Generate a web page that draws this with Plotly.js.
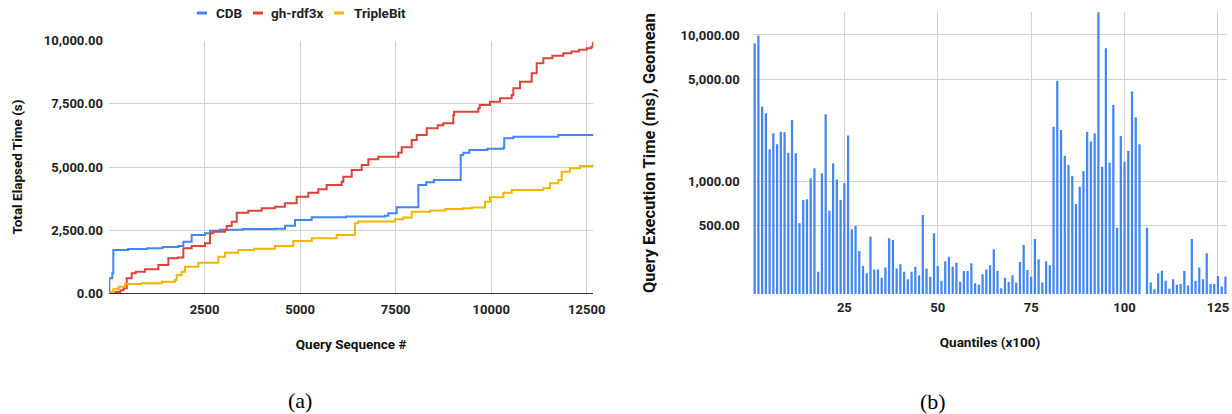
<!DOCTYPE html>
<html><head><meta charset="utf-8">
<script src="https://cdn.plot.ly/plotly-3.0.1.min.js"></script>
<style>html,body{margin:0;padding:0;background:#fff}#chart{width:1232px;height:414px}</style>
</head><body><div id="chart"></div>
<script>
// ---- data: panel (a) cumulative elapsed time (step points: query #, seconds)
const seriesNames = ['CDB', 'gh-rdf3x', 'TripleBit'];
const seriesColors = ['#4285F4', '#DB4437', '#F4B400'];

const cdbX = [0, 10, 87, 113, 500, 1000, 1400, 1814, 1945, 2163, 2512, 2643, 2900, 3500, 4343, 4605, 4866, 5303, 6200, 7221, 7309, 7527, 8094, 8300, 8500, 9202, 9271, 9428, 9900, 10317, 10340, 10579, 11756, 12671];
const cdbY = [0, 594, 792, 1714, 1750, 1780, 1830, 1873, 2043, 2308, 2375, 2480, 2520, 2545, 2560, 2677, 2902, 3009, 3040, 3073, 3167, 3404, 4287, 4394, 4485, 5475, 5566, 5673, 5720, 5764, 6136, 6200, 6267, 6293];

const rdfX = [0, 180, 300, 380, 463, 594, 700, 942, 1291, 1553, 1800, 1945, 2163, 2512, 2643, 2730, 3035, 3079, 3210, 3341, 3646, 3995, 4343, 4600, 4911, 5215, 5477, 5695, 6088, 6131, 6350, 6612, 6786, 7046, 7570, 7658, 7920, 8051, 8313, 8600, 8747, 9009, 9030, 9663, 9700, 9969, 10230, 10536, 10579, 10754, 11059, 11190, 11364, 11600, 11887, 12100, 12300, 12498, 12620, 12660, 12671];
const rdfY = [0, 50, 120, 200, 594, 792, 850, 950, 1120, 1386, 1420, 1781, 1873, 1979, 2375, 2441, 2506, 2664, 2836, 3191, 3271, 3363, 3429, 3563, 3825, 3983, 4117, 4287, 4419, 4617, 4881, 5079, 5305, 5408, 5566, 5780, 6069, 6267, 6532, 6650, 6730, 7059, 7190, 7323, 7455, 7587, 7720, 7850, 8115, 8377, 8709, 9105, 9303, 9400, 9501, 9570, 9640, 9699, 9765, 9921, 9921];

const tbX = [0, 60, 113, 250, 419, 855, 1378, 1727, 1771, 1900, 1988, 2337, 2860, 3035, 3384, 3800, 4343, 4823, 5303, 5957, 6437, 6520, 7483, 7700, 7920, 8400, 8800, 9271, 9500, 9838, 9969, 10317, 10536, 11364, 11538, 11756, 11844, 12062, 12323, 12671];
const tbY = [0, 60, 158, 260, 368, 395, 461, 527, 725, 850, 1055, 1213, 1451, 1609, 1714, 1760, 1873, 2070, 2177, 2308, 2771, 2840, 2929, 3000, 3230, 3280, 3337, 3365, 3400, 3626, 3800, 3983, 4089, 4157, 4355, 4485, 4814, 4948, 5040, 5107];

const leftXTicks = [2500, 5000, 7500, 10000, 12500];
const leftYTicks = [0, 2500, 5000, 7500, 10000];

// ---- data: panel (b) geomean execution time per quantile (ms)
const quantiles = [1,2,3,4,5,6,7,8,9,10,11,12,13,14,15,16,17,18,19,20,21,22,23,24,25,26,27,28,29,30,31,32,33,34,35,36,37,38,39,40,41,42,43,44,45,46,47,48,49,50,51,52,53,54,55,56,57,58,59,60,61,62,63,64,65,66,67,68,69,70,71,72,73,74,75,76,77,78,79,80,81,82,83,84,85,86,87,88,89,90,91,92,93,94,95,96,97,98,99,100,101,102,103,104,105,106,107,108,109,110,111,112,113,114,115,116,117,118,119,120,121,122,123,124,125,126,127];
const geomeanMs = [8775, 9900, 3236, 2917, 1656, 2128, 1790, 2183, 2163, 1567,
  2624, 1553, 516, 744, 753, 1047, 1227, 241, 1135, 2873,
  630, 1327, 1030, 744, 968, 2052, 470, 495, 334, 264,
  235, 418, 250, 250, 219, 258, 408, 397, 254, 271,
  241, 214, 241, 261, 228, 589, 254, 223, 442, 264,
  209, 284, 305, 261, 278, 206, 244, 244, 275, 201,
  196, 232, 250, 267, 343, 244, 186, 219, 205, 228,
  203, 281, 367, 248, 223, 403, 293, 203, 284, 267,
  2361, 4873, 2244, 1497, 1291, 1086, 700, 918, 1175, 2183,
  1867, 2128, 14500, 1259, 8115, 1340, 3327, 482, 2042, 1361,
  1611, 4105, 2735, 1790, null, 482, 203, 183, 235, 245,
  209, 184, 214, 196, 199, 244, 194, 403, 209, 258,
  214, 322, 199, 199, 225, 191, 223];
const rightXTicks = [25, 50, 75, 100, 125];
const rightYTicks = [500, 1000, 5000, 10000];

// ---- layout helpers (pixel -> paper)
const W = 1232, H = 414;
const px = x => x / W;
const py = y => 1 - y / H;

const tickFont = {family: 'Roboto, Arial, sans-serif', size: 13, color: '#222', weight: 'bold'};
const titleFont = {family: 'Roboto, Arial, sans-serif', size: 13.5, color: '#111', weight: 'bold'};
const grid = '#d0d0d0';

const lineData = [[cdbX, cdbY], [rdfX, rdfY], [tbX, tbY]];
const traces = lineData.map((d, i) => ({
  type: 'scatter', mode: 'lines', x: d[0], y: d[1], name: seriesNames[i],
  line: {color: seriesColors[i], width: 2, shape: 'hv'},
  xaxis: 'x', yaxis: 'y', showlegend: false, hoverinfo: 'skip'
}));
traces.push({
  type: 'bar', x: quantiles, y: geomeanMs, name: 'Geomean',
  marker: {color: '#4285F4', line: {width: 0}},
  xaxis: 'x2', yaxis: 'y2', showlegend: false, hoverinfo: 'skip'
});

// custom legend (short line keys like the reference)
const legendKeyX = [197, 253, 334];
const legendTextX = [214, 269, 352];
const legendY = 13;
const shapes = seriesNames.map((n, i) => ({
  type: 'line', xref: 'paper', yref: 'paper',
  x0: px(legendKeyX[i]), x1: px(legendKeyX[i] + 10), y0: py(legendY), y1: py(legendY),
  line: {color: seriesColors[i], width: 3}
}));
const annotations = seriesNames.map((n, i) => ({
  text: n, xref: 'paper', yref: 'paper', x: px(legendTextX[i]), y: py(legendY),
  xanchor: 'left', yanchor: 'middle', showarrow: false,
  font: {family: 'Roboto, Arial, sans-serif', size: 13.5, color: '#222', weight: 'bold'}
}));
annotations.push({text: '(a)', xref: 'paper', yref: 'paper', x: px(300), y: py(400),
  xanchor: 'center', yanchor: 'middle', showarrow: false,
  font: {family: 'Liberation Serif, serif', size: 22, color: '#000'}});
annotations.push({text: '(b)', xref: 'paper', yref: 'paper', x: px(933), y: py(401),
  xanchor: 'center', yanchor: 'middle', showarrow: false,
  font: {family: 'Liberation Serif, serif', size: 22, color: '#000'}});

const layout = {
  width: W, height: H,
  margin: {l: 0, r: 0, t: 0, b: 0},
  paper_bgcolor: '#fff', plot_bgcolor: '#fff',
  showlegend: false,
  bargap: 0.4,
  xaxis: {
    domain: [px(109), px(593.3)], anchor: 'y',
    range: [0, 12671], tickvals: leftXTicks, tickformat: 'd',
    showgrid: true, gridcolor: grid, zeroline: false,
    showline: true, linecolor: '#333', linewidth: 1,
    ticks: '', ticklabelstandoff: 4, tickfont: tickFont,
    title: {text: 'Query Sequence #', font: titleFont, standoff: 23}
  },
  yaxis: {
    domain: [py(293.3), py(40.7)], anchor: 'x',
    range: [0, 10000], tickvals: leftYTicks, tickformat: ',.2f',
    showgrid: true, gridcolor: grid, zeroline: false, showline: false,
    ticks: '', ticklabelstandoff: 5, tickfont: tickFont,
    title: {text: 'Total Elapsed Time (s)', font: titleFont, standoff: 18}
  },
  xaxis2: {
    domain: [px(752.8), px(1227.3)], anchor: 'y2',
    range: [0.5, 127.5], tickvals: rightXTicks, tickformat: 'd',
    showgrid: true, gridcolor: grid, zeroline: false, showline: false,
    ticks: '', ticklabelstandoff: 4, tickfont: tickFont,
    title: {text: 'Quantiles (x100)', font: titleFont, standoff: 23}
  },
  yaxis2: {
    domain: [py(294), py(12.3)], anchor: 'x2',
    type: 'log', range: [2.2297, 4.155], tickvals: rightYTicks, tickformat: ',.2f',
    showgrid: true, gridcolor: grid, zeroline: false, showline: false,
    ticks: '', ticklabelstandoff: 12, tickfont: tickFont,
    title: {text: 'Query Execution Time (ms), Geomean', font: Object.assign({}, titleFont, {size: 16.5}), standoff: 20}
  },
  shapes: shapes,
  annotations: annotations
};

Plotly.newPlot('chart', traces, layout, {staticPlot: true, displayModeBar: false});
</script>
</body></html>
